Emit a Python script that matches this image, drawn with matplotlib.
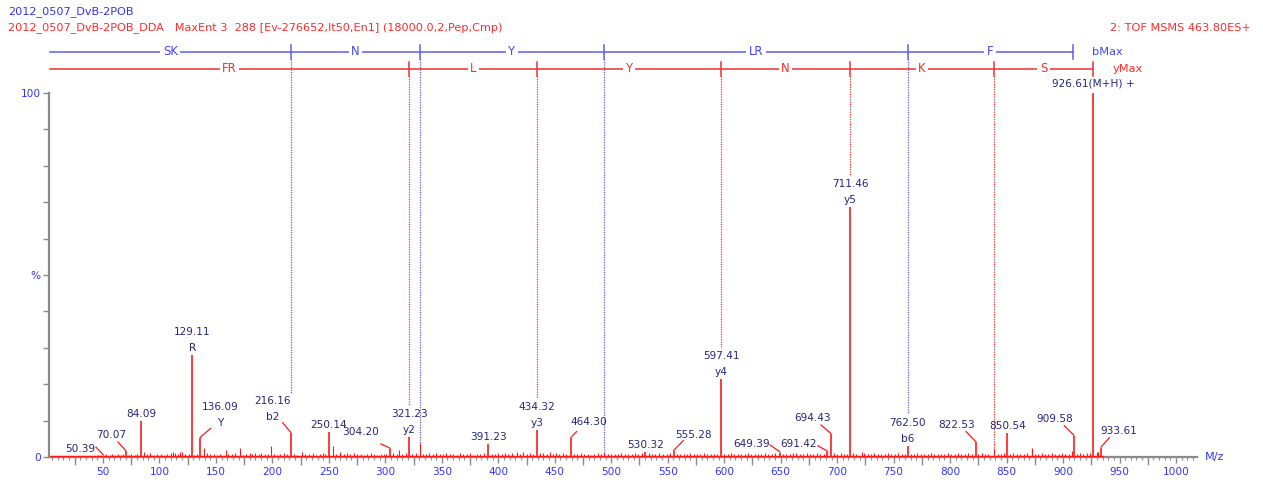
import matplotlib
matplotlib.use("Agg")
import matplotlib.pyplot as plt

# labelled peaks (m/z, % intensity, ion tag)
peak_mz = [50.39, 70.07, 84.09, 129.11, 136.09, 216.16, 250.14, 304.20, 321.23,
           391.23, 434.32, 464.30, 530.32, 555.28, 597.41, 649.39, 691.42, 694.43,
           711.46, 762.50, 822.53, 850.54, 909.58, 926.61, 933.61]
peak_int = [0.4, 1.6, 9.9, 28.0, 5.2, 6.6, 6.9, 2.2, 5.5,
            3.6, 7.4, 5.2, 1.3, 1.6, 21.4, 1.2, 1.4, 6.3,
            68.7, 3.0, 4.1, 6.6, 5.8, 100.0, 2.5]
peak_tag = ["", "", "", "R", "Y", "b2", "", "", "y2",
            "", "y3", "", "", "", "y4", "", "", "",
            "y5", "b6", "", "", "", "", ""]

# unlabelled small peaks
noise_mz = [3, 6, 9, 12, 15, 43, 46, 48, 53, 56,
            58, 61, 63, 66, 68, 73, 75, 78, 80, 86.6,
            89, 92, 95, 98, 101, 104, 107, 110, 112, 113.5,
            116, 118, 120.3, 123, 126, 131, 133, 139.4, 142, 145,
            148, 151, 154, 158.6, 161, 164, 167, 171.3, 174, 177,
            180, 182, 185, 188, 190, 193, 196, 198.5, 201, 204,
            207, 210, 213, 219, 222, 226.5, 229, 232, 236, 239,
            242, 245, 247, 253.4, 256, 259.9, 263, 266, 269, 272.2,
            275, 278, 281, 284, 287, 290, 293, 296, 299, 301,
            307, 310, 312, 315, 318, 324, 327, 330.7, 333, 336,
            339, 342, 345, 348, 351, 354, 357, 360, 363, 366,
            369, 372, 375, 378, 381, 384, 387, 394, 397, 400,
            403, 406, 409, 412, 416.3, 419, 422, 425, 428, 431,
            437, 440, 443, 445.8, 448, 451, 454, 457, 460, 467,
            470, 473, 476, 479, 482, 485, 488, 491, 493.6, 497,
            500, 503, 506, 509, 512, 515, 518, 521, 524, 527,
            533, 536, 539, 542, 546, 549, 552, 558, 561, 564,
            567, 570, 573, 576, 579, 582, 585, 588, 591, 594,
            600, 603, 606, 609, 612, 615, 618, 621, 624, 627,
            630, 633, 636, 639, 642, 645, 652, 655, 658, 661,
            664, 667, 670, 673, 676, 679, 682, 685, 688, 697,
            700, 703, 706, 709, 714, 717, 721.7, 724, 727, 730,
            733, 736, 739, 742, 745, 748, 751, 754, 757, 760,
            765, 768, 771, 774, 777, 780, 783, 786, 789, 792,
            795, 798.4, 801, 804, 807, 810, 813, 816, 819, 825,
            828, 831, 834, 838.9, 842, 845, 848, 853, 856, 859,
            862, 865, 868, 872.5, 875, 878, 881, 884, 887, 890,
            893, 896, 899, 902, 905, 907.6, 912, 915, 918, 921,
            924, 929.8, 931, 935]
noise_int = [0.3, 0.3, 0.3, 0.3, 0.3, 0.4, 0.6, 0.5, 0.7, 0.5,
             0.8, 0.6, 0.9, 0.5, 0.7, 0.6, 0.9, 0.5, 0.7, 1.4,
             0.8, 1.0, 0.6, 0.7, 0.9, 0.6, 0.8, 1.1, 1.4, 1.2,
             0.9, 1.3, 1.4, 0.7, 0.9, 0.6, 0.8, 2.4, 1.0, 0.7,
             0.9, 0.6, 0.8, 1.8, 0.7, 0.9, 1.0, 2.4, 0.6, 0.8,
             1.0, 0.7, 1.2, 0.9, 1.1, 0.8, 0.7, 3.1, 0.9, 0.6,
             0.8, 1.0, 0.7, 0.9, 0.6, 1.3, 0.8, 0.7, 1.0, 0.6,
             0.9, 1.1, 0.8, 3.1, 0.9, 1.5, 0.8, 1.0, 0.7, 1.2,
             0.7, 0.9, 0.6, 0.8, 1.0, 0.7, 0.6, 0.9, 0.8, 0.7,
             1.0, 0.8, 1.8, 0.9, 1.1, 0.8, 1.0, 3.8, 0.9, 0.7,
             1.0, 0.8, 1.1, 0.9, 0.7, 1.2, 0.8, 0.9, 0.6, 1.0,
             0.8, 0.7, 1.0, 0.6, 0.9, 0.8, 1.1, 0.9, 0.7, 1.0,
             0.8, 1.1, 0.9, 1.0, 1.5, 0.8, 1.3, 0.9, 1.1, 0.8,
             1.0, 1.2, 0.9, 1.5, 0.8, 1.1, 0.9, 1.0, 0.7, 0.9,
             0.7, 1.0, 0.8, 0.9, 0.6, 0.8, 1.0, 0.7, 1.3, 0.8,
             0.9, 0.7, 0.8, 1.0, 0.7, 0.9, 0.8, 1.1, 0.9, 1.0,
             1.2, 0.8, 0.9, 1.2, 0.7, 0.9, 1.0, 0.8, 0.7, 0.9,
             0.8, 1.0, 0.7, 0.9, 0.8, 1.0, 0.7, 0.9, 0.8, 0.7,
             0.9, 0.7, 1.1, 0.8, 0.9, 0.7, 0.8, 1.0, 0.7, 0.9,
             0.8, 0.7, 1.0, 0.8, 0.9, 1.1, 0.8, 0.9, 0.7, 1.0,
             1.0, 0.8, 0.9, 1.1, 0.7, 0.9, 1.0, 0.8, 0.9, 1.0,
             0.8, 1.0, 0.7, 0.9, 1.0, 0.8, 1.3, 1.0, 0.8, 0.9,
             1.1, 0.8, 0.9, 0.7, 1.0, 0.8, 0.9, 1.0, 0.7, 0.8,
             0.9, 0.7, 1.0, 0.8, 0.9, 0.7, 1.0, 0.8, 0.7, 0.9,
             0.8, 1.2, 0.9, 0.8, 1.0, 0.9, 0.8, 1.0, 0.9, 0.8,
             1.0, 0.9, 0.8, 2.5, 0.9, 0.8, 1.0, 0.9, 1.1, 0.8,
             0.9, 0.8, 1.0, 2.4, 0.8, 0.9, 1.0, 0.8, 0.9, 1.0,
             0.8, 0.9, 1.0, 0.8, 0.9, 1.6, 0.8, 1.0, 0.9, 1.1,
             1.2, 1.5, 1.4, 0.3]

# sequence ladders: fragment boundaries and residues between them
b_ions = [216.16, 330.7, 493.6, 762.50, 908.6]
b_residues = ["SK", "N", "Y", "LR", "F"]
y_ions = [321.23, 434.32, 597.41, 711.46, 838.9, 926.61]
y_residues = ["FR", "L", "Y", "N", "K", "S"]
ladder_start = 3.0

# labels that sit away from their peak: text centre, leader start
offset_labels = {
    50.39: (29.7, 2.2, 43.8, 2.7),
    70.07: (57.7, 6.0, 63.3, 4.1),
    136.09: (153.6, 13.7, 145.4, 7.9),
    216.16: (200.5, 15.4, 209.1, 9.4),
    304.20: (278.4, 6.9, 296.1, 3.6),
    464.30: (480.3, 9.6, 469.4, 7.0),
    555.28: (572.4, 6.0, 563.8, 4.5),
    649.39: (624.3, 3.6, 640.6, 3.3),
    691.42: (665.4, 3.6, 682.8, 3.1),
    694.43: (678.4, 10.7, 685.7, 8.8),
    822.53: (805.8, 8.8, 814.1, 7.0),
    909.58: (892.9, 10.4, 901.1, 8.6),
    933.61: (949.5, 7.1, 941.0, 5.3),
}

RED = "#ff1a1a"
BLUE_TXT = "#3333ff"
NAVY = "#26267a"
LAD_BLUE = "#5c5cf2"
LAD_RED = "#ee3030"
FS = 7.6

fig = plt.figure(figsize=(12.63, 4.84), dpi=100)
ax = fig.add_axes([49 / 1263, 27 / 484, 1148 / 1263, 364 / 484])
ax.set_xlim(2.2, 1018.6)
ax.set_ylim(0, 100)

# spectrum
ax.hlines(0.3, min(noise_mz), max(noise_mz), color=RED, lw=1.0, zorder=3, clip_on=False)
ax.vlines(noise_mz, 0, noise_int, color=RED, lw=0.8, zorder=3)
ax.vlines(peak_mz, 0, peak_int, color=RED, lw=1.2, zorder=3)

# peak labels
label_top = {}
for mz, h, tag in zip(peak_mz, peak_int, peak_tag):
    if mz == 926.61:
        ax.text(mz, 102.7, "926.61(M+H) +", color=NAVY, fontsize=FS,
                ha="center", va="center", clip_on=False)
        continue
    if mz in offset_labels:
        lx, ly, sx, sy = offset_labels[mz]
        ax.text(lx, ly, f"{mz:.2f}", color=NAVY, fontsize=FS, ha="center", va="center")
        if tag:
            ax.annotate(tag, (lx, ly), xytext=(0, -11.5), textcoords="offset points",
                        color=NAVY, fontsize=FS, ha="center", va="center")
        ax.plot([sx, mz], [sy, h + 0.2], color=RED, lw=0.9)
        label_top[mz] = ly + 2.2
    else:
        off = 1.5
        if tag:
            ax.annotate(tag, (mz, h), xytext=(0, off), textcoords="offset points",
                        color=NAVY, fontsize=FS, ha="center", va="bottom")
            off += 11.5
        ax.annotate(f"{mz:.2f}", (mz, h), xytext=(0, off), textcoords="offset points",
                    color=NAVY, fontsize=FS, ha="center", va="bottom")
        label_top[mz] = h + (8.8 if tag else 4.6)


def guide_stop(mz):
    if mz in label_top:
        return label_top[mz]
    for nm, nh in zip(noise_mz, noise_int):
        if abs(nm - mz) < 0.5:
            return nh
    return 0


def draw_ladder(ions, residues, y, line_col, txt_col, end_name):
    bounds = [ladder_start] + ions
    ax.plot([bounds[0], bounds[-1]], [y, y], color=line_col, lw=1.1, clip_on=False)
    for a, b, res in zip(bounds[:-1], bounds[1:], residues):
        ax.text((a + b) / 2, y, res, color=txt_col, fontsize=8.4, ha="center", va="center",
                clip_on=False, bbox=dict(facecolor="white", edgecolor="none", pad=1.8))
    for k, m in enumerate(ions):
        ax.plot([m, m], [y + 1.9, y - 1.9], color=line_col, lw=1.1, clip_on=False)
        if k < len(ions) - 1 or end_name == "yMax":
            stop = guide_stop(m)
            if m != 926.61:
                ax.plot([m, m], [y - 1.9, stop], color=line_col, lw=0.9,
                        ls=(0, (1, 1)), clip_on=False, zorder=1)
    ax.annotate(end_name, (ions[-1], y), xytext=(14, 0), textcoords="offset points",
                color=txt_col, fontsize=8.2, ha="left", va="center", annotation_clip=False)


draw_ladder(b_ions, b_residues, 111.3, LAD_BLUE, "#4444ff", "bMax")
draw_ladder(y_ions, y_residues, 106.6, LAD_RED, "#ff2a2a", "yMax")

# axes styling
for side in ["top", "right"]:
    ax.spines[side].set_visible(False)
for side in ["left", "bottom"]:
    ax.spines[side].set_color("#8a8a8a")
    ax.spines[side].set_linewidth(1.6)
    ax.spines[side].set_zorder(2)

ax.set_yticks([0, 50, 100])
ax.set_yticklabels(["0", "%", "100"])
ax.set_yticks(range(10, 100, 10), minor=True)
ax.tick_params(axis="y", which="both", length=4, width=1, color="#8a8a8a",
               labelcolor=BLUE_TXT, labelsize=FS, pad=2)

ax.set_xticks(range(50, 1001, 50))
ax.set_xticks(range(5, 1019, 5), minor=True)
ax.tick_params(axis="x", which="major", length=4, width=1, color="#8a8a8a",
               labelcolor=BLUE_TXT, labelsize=FS, pad=3)
ax.tick_params(axis="x", which="minor", length=2.2, width=0.8, color="#8a8a8a")
sec = ax.secondary_xaxis("bottom")
sec.set_xticks(range(25, 1019, 50))
sec.tick_params(length=5.5, width=1, color="#8a8a8a", labelbottom=False)
sec.spines["bottom"].set_visible(False)

ax.text(1.007, 0.0, "M/z", transform=ax.transAxes, color=BLUE_TXT, fontsize=FS + 0.5,
        ha="left", va="center")

# header
HFS = 8.1
fig.text(8 / 1263, 1 - 12 / 484, "2012_0507_DvB-2POB", color="#3333ee",
         fontsize=HFS, va="center")
fig.text(8 / 1263, 1 - 28 / 484,
         "2012_0507_DvB-2POB_DDA   MaxEnt 3  288 [Ev-276652,It50,En1] (18000.0,2,Pep,Cmp)",
         color="#ff2a2a", fontsize=HFS, va="center")
fig.text(1251 / 1263, 1 - 28 / 484, "2: TOF MSMS 463.80ES+", color="#ff2a2a",
         fontsize=HFS, va="center", ha="right")

fig.savefig("out.png", dpi=100)
